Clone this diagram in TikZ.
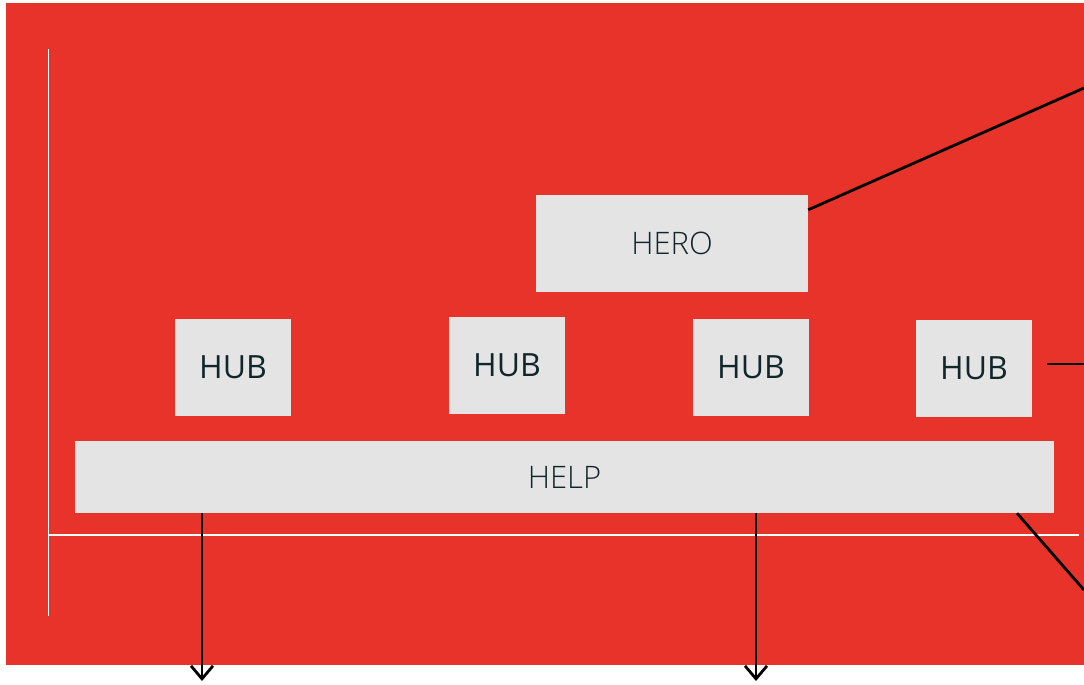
\documentclass[tikz,border=0pt]{standalone}
\usepackage{fontspec}
\setmainfont{Open Sans}
\newfontfamily\thinfont{Open Sans Light}
\usetikzlibrary{arrows.meta}
\definecolor{bgred}{HTML}{E8332A}
\definecolor{boxgrey}{HTML}{E4E4E4}
\definecolor{ink}{HTML}{10262A}
\tikzset{
  block/.style={fill=boxgrey, draw=none, inner sep=0pt, text=ink, font=\fontsize{32}{32}\selectfont},
  hubbox/.style={block, minimum width=116pt, minimum height=97pt},
  thinlabel/.style={font=\thinfont\fontsize{31}{31}\selectfont},
  guide/.style={draw=white, line width=1.3pt},
  wire/.style={draw=black, line width=2.8pt},
  drop/.style={wire, -{Straight Barb[length=13pt, width=22pt, line width=2.8pt]}}
}
\begin{document}
\begin{tikzpicture}[x=1pt, y=-1pt]
\useasboundingbox (0,0) rectangle (1084,685);
\fill[white] (0,0) rectangle (1084,685);
\fill[bgred] (6,3) rectangle (1084,665);

% axes
\draw[guide] (48.5,49) -- (48.5,616);
\draw[guide] (48,535) -- (1079,535);

% boxes
\node[block, thinlabel, minimum width=272pt, minimum height=97pt] (hero) at (672,243.5) {HERO};
\node[hubbox] (hub1) at (233,367.5) {HUB};
\node[hubbox] (hub2) at (507,365.5) {HUB};
\node[hubbox] (hub3) at (751,367.5) {HUB};
\node[hubbox] (hub4) at (974,368.5) {HUB};
\node[block, thinlabel, minimum width=979pt, minimum height=72pt] (help) at (564.5,477) {HELP};

% connectors
\coordinate (heroout) at (1084,88);
\coordinate (hubstart) at (1047,364);
\coordinate (hubout) at (1084,364);
\coordinate (helpout) at (1084,590);
\coordinate (dropa) at (202,681);
\coordinate (dropb) at (756,681);

\draw[wire] ([yshift=-15pt]hero.north east) -- (heroout);
\draw[wire] (hubstart) -- (hubout);
\draw[wire] (help.south -| 1017,0) -- (helpout);
\draw[drop] (help.south -| dropa) -- (dropa);
\draw[drop] (help.south -| dropb) -- (dropb);
\end{tikzpicture}
\end{document}
